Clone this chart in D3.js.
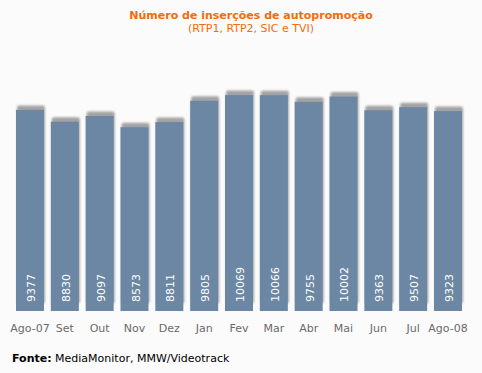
<!DOCTYPE html>
<html><head><meta charset="utf-8">
<script src="https://cdn.jsdelivr.net/npm/d3@7"></script>
<style>
html,body{margin:0;padding:0;background:#fbfbfb;}
svg{display:block;}
</style></head>
<body>
<script>
const categories = ["Ago-07","Set","Out","Nov","Dez","Jan","Fev","Mar","Abr","Mai","Jun","Jul","Ago-08"];
const values = [9377,8830,9097,8573,8811,9805,10069,10066,9755,10002,9363,9507,9323];
const title = "Número de inserções de autopromoção";
const subtitle = "(RTP1, RTP2, SIC e TVI)";
const sourceLabel = "Fonte:";
const sourceText = " MediaMonitor, MMW/Videotrack";

const W = 482, H = 373;
const svg = d3.select("body").append("svg").attr("width", W).attr("height", H);
svg.append("rect").attr("width", W).attr("height", H).attr("fill", "#fbfbfb");

const defs = svg.append("defs");
const f = defs.append("filter").attr("id","blur").attr("x","-20%").attr("y","-20%").attr("width","140%").attr("height","140%");
f.append("feGaussianBlur").attr("stdDeviation", 0.9);

const x = d3.scaleBand().domain(categories).range([16, 462]).paddingInner(0.196).paddingOuter(0);
const y = d3.scaleLinear().domain([0, 10000]).range([311, 96.6]);

const font = "'DejaVu Sans', Verdana, sans-serif";

// shadows
svg.append("g").selectAll("rect").data(values).join("rect")
  .attr("x", (d,i) => x(categories[i]) + 1)
  .attr("y", d => y(d) - 4.5)
  .attr("width", x.bandwidth())
  .attr("height", d => y(0) - y(d) - 3)
  .attr("rx", 2)
  .attr("fill", "#9a9a9a")
  .attr("opacity", 0.9)
  .attr("filter", "url(#blur)");

// bars
svg.append("g").selectAll("rect").data(values).join("rect")
  .attr("x", (d,i) => x(categories[i]))
  .attr("y", d => y(d))
  .attr("width", x.bandwidth())
  .attr("height", d => y(0) - y(d))
  .attr("fill", "#6b87a4");

// value labels
svg.append("g").selectAll("text").data(values).join("text")
  .attr("transform", (d,i) => `translate(${x(categories[i]) + x.bandwidth()/2 + 5},302) rotate(-90)`)
  .attr("text-anchor", "start")
  .attr("font-family", font)
  .attr("font-size", 11)
  .attr("fill", "#ffffff")
  .text(d => d);

// x axis labels
const xAxis = d3.axisBottom(x).tickSize(0).tickPadding(0);
const ax = svg.append("g").attr("transform", "translate(0,324)").call(xAxis);
ax.select(".domain").remove();
ax.selectAll("text").attr("font-family", font).attr("font-size", 11).attr("fill", "#6a6a6a");

// title
svg.append("text").attr("x", 251).attr("y", 19).attr("text-anchor","middle")
  .attr("font-family", font).attr("font-size", 11).attr("font-weight","bold")
  .attr("fill", "#f26c0c").text(title);
svg.append("text").attr("x", 251).attr("y", 32).attr("text-anchor","middle")
  .attr("font-family", font).attr("font-size", 11)
  .attr("fill", "#f26c0c").text(subtitle);

// source
const src = svg.append("text").attr("x", 12).attr("y", 362)
  .attr("font-family", font).attr("font-size", 11).attr("fill", "#000");
src.append("tspan").attr("font-weight","bold").text(sourceLabel);
src.append("tspan").text(sourceText);
</script>
</body></html>
